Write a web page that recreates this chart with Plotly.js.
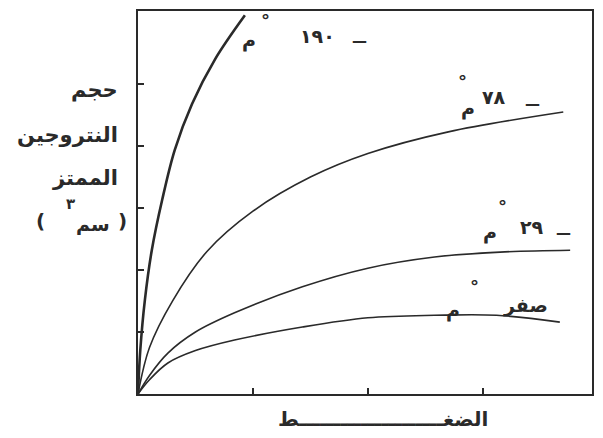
<!DOCTYPE html>
<html>
<head>
<meta charset="utf-8">
<script src="https://cdn.plot.ly/plotly-3.0.1.min.js"></script>
<style>html,body{margin:0;padding:0;background:#fff;}#chart{width:603px;height:438px;}</style>
</head>
<body>
<div id="chart"></div>
<script>
// Pressure (arbitrary units) and adsorbed nitrogen volume (arbitrary units)
const p_m190 = [0, 0.02, 0.06, 0.12, 0.21, 0.32, 0.47, 0.67, 0.93];
const v_m190 = [0, 0.71, 1.52, 2.32, 3.13, 3.94, 4.68, 5.40, 6.11];
const p_m78 = [0, 0.1, 0.3, 0.6, 1.0, 1.5, 2.0, 2.7, 3.7];
const v_m78 = [0, 0.75, 1.5, 2.3, 2.95, 3.5, 3.88, 4.23, 4.55];
const p_m29 = [0, 0.1, 0.26, 0.5, 0.84, 1.43, 2.0, 2.58, 3.15, 3.76];
const v_m29 = [0, 0.3, 0.66, 1.0, 1.31, 1.73, 2.03, 2.21, 2.29, 2.32];
const p_0 = [0, 0.1, 0.26, 0.5, 0.84, 1.43, 2.0, 2.58, 3.12, 3.67];
const v_0 = [0, 0.23, 0.50, 0.70, 0.87, 1.08, 1.23, 1.27, 1.27, 1.16];

// Text
const tempNumbers = ["١٩٠", "٧٨", "٢٩", "صفر"];
const unitC = "م";
const degree = "°";
const minusDash = "—";
const yTitleLines = ["حجم", "النتروجين", "الممتز"];
const yUnitParts = ["(", "سم", "٣", ")"];
const xTitle = "الضغـــــــــــــــــــــط";

const ink = "#2a2a2a";
const arFont = "DejaVu Sans";

function line(x, y, w) {
  return {x: x, y: y, type: "scatter", mode: "lines",
    line: {color: ink, width: w, shape: "spline", smoothing: 1.0},
    hoverinfo: "skip", showlegend: false};
}
const data = [
  line(p_m190, v_m190, 2.6),
  line(p_m78, v_m78, 1.6),
  line(p_m29, v_m29, 1.6),
  line(p_0, v_0, 1.6)
];

function ann(text, x, y, size, opts) {
  return Object.assign({text: text, x: x, y: y, xref: "x", yref: "y", showarrow: false,
    font: {family: arFont, size: size, color: ink, weight: "bold"}, xanchor: "center", yanchor: "middle",
    borderpad: 0}, opts || {});
}
const annotations = [];
// -190 label
annotations.push(ann(unitC, 0.97, 5.71, 19));
annotations.push(ann(degree, 1.11, 6.02, 18));
annotations.push(ann(tempNumbers[0], 1.56, 5.78, 19));
annotations.push(ann(minusDash, 1.93, 5.70, 15));
// -78 label
annotations.push(ann(unitC, 2.87, 4.60, 19));
annotations.push(ann(degree, 2.82, 5.04, 18));
annotations.push(ann(tempNumbers[1], 3.10, 4.80, 19));
annotations.push(ann(minusDash, 3.43, 4.68, 15));
// -29 label
annotations.push(ann(unitC, 3.06, 2.61, 19));
annotations.push(ann(degree, 3.17, 3.02, 18));
annotations.push(ann(tempNumbers[2], 3.43, 2.70, 19));
annotations.push(ann(minusDash, 3.70, 2.60, 15));
// 0 label
annotations.push(ann(unitC, 2.74, 1.35, 19));
annotations.push(ann(degree, 2.93, 1.74, 18));
annotations.push(ann(tempNumbers[3], 3.37, 1.43, 19));

// y title lines (paper coords)
const yLinePos = [0.794, 0.676, 0.565];
yTitleLines.forEach(function (t, i) {
  annotations.push({text: t, xref: "paper", yref: "paper", x: -0.04, y: yLinePos[i],
    xanchor: "right", yanchor: "middle", showarrow: false,
    font: {family: arFont, size: 21, color: ink, weight: "bold"}});
});
const unitX = [-0.215, -0.10, -0.148, -0.035];
const unitY = [0.452, 0.443, 0.495, 0.452];
const unitSize = [20, 19, 15, 20];
yUnitParts.forEach(function (t, i) {
  annotations.push({text: t, xref: "paper", yref: "paper", x: unitX[i], y: unitY[i],
    xanchor: "center", yanchor: "middle", showarrow: false,
    font: {family: arFont, size: unitSize[i], color: ink, weight: "bold"}});
});
// x title
annotations.push({text: xTitle, xref: "paper", yref: "paper", x: 0.54, y: -0.065,
  xanchor: "center", yanchor: "middle", showarrow: false,
  font: {family: arFont, size: 20, color: ink, weight: "bold"}});

const layout = {
  width: 603, height: 438,
  margin: {l: 138, r: 11, t: 11, b: 44},
  paper_bgcolor: "#ffffff", plot_bgcolor: "#ffffff",
  showlegend: false,
  xaxis: {range: [0, 3.95], showgrid: false, zeroline: false, showline: true, mirror: true,
    linecolor: ink, linewidth: 2, ticks: "inside", ticklen: 6, tickwidth: 1.5, tickcolor: ink,
    tickvals: [1, 2, 3], showticklabels: false, fixedrange: true},
  yaxis: {range: [0, 6.18], showgrid: false, zeroline: false, showline: true, mirror: true,
    linecolor: ink, linewidth: 2, ticks: "inside", ticklen: 6, tickwidth: 1.5, tickcolor: ink,
    tickvals: [1, 2, 3, 4, 5], showticklabels: false, fixedrange: true},
  annotations: annotations
};
Plotly.newPlot("chart", data, layout, {displayModeBar: false, staticPlot: true});
</script>
</body>
</html>
